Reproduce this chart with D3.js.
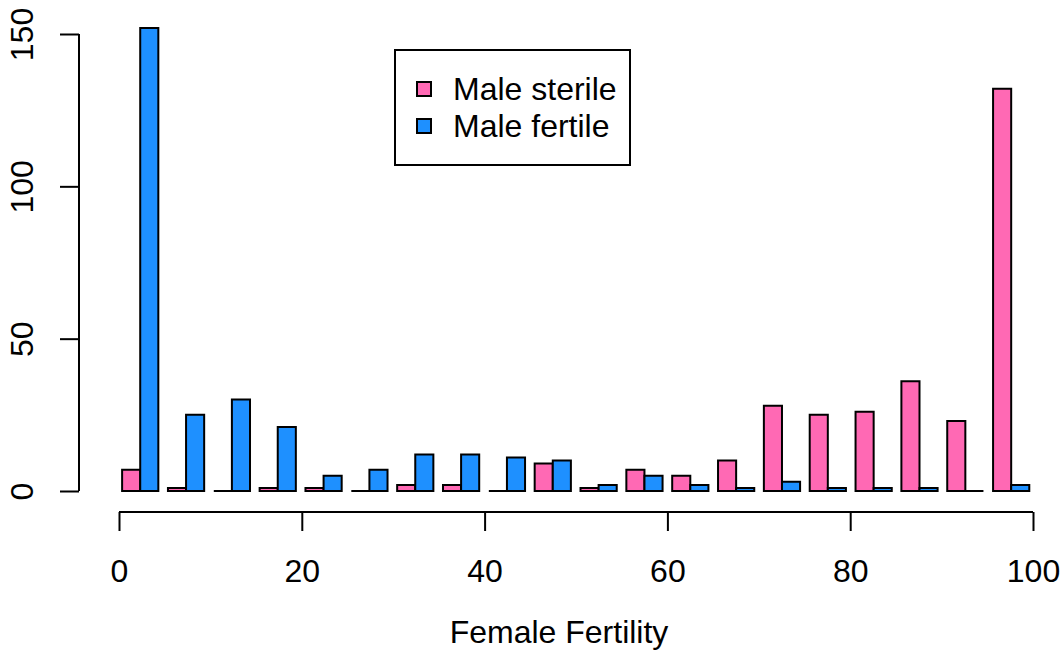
<!DOCTYPE html>
<html>
<head>
<meta charset="utf-8">
<script src="https://cdn.jsdelivr.net/npm/d3@7"></script>
<style>
  body { margin: 0; background: #fff; }
  text { font-family: "Liberation Sans", Arial, Helvetica, sans-serif; fill: #000; }
</style>
</head>
<body>
<svg id="chart" width="1063" height="650"></svg>
<script>
// bins of female fertility (%), 5 wide
const bins = d3.range(0, 100, 5);
const series = ['Male sterile', 'Male fertile'];
const colors = ['#FF69B4', '#1E90FF'];
const maleSterile = [7, 1, 0, 1, 1, 0, 2, 2, 0, 9, 1, 7, 5, 10, 28, 25, 26, 36, 23, 132];
const maleFertile = [152, 25, 30, 21, 5, 7, 12, 12, 11, 10, 2, 5, 2, 1, 3, 1, 1, 1, 0, 2];
const xTicks = [0, 20, 40, 60, 80, 100];
const yTicks = [0, 50, 100, 150];

const svg = d3.select('#chart');
const fontSize = 32;

const x = d3.scaleLinear().domain([0, 100]).range([119, 1033]);
const y = d3.scaleLinear().domain([0, 150]).range([491, 34]);

const group = d3.scaleBand()
  .domain(bins)
  .range([117.3, 1034.1])
  .paddingInner(0.21)
  .paddingOuter(0.105);
const sub = d3.scaleBand().domain(series).range([0, group.bandwidth()]);

const data = [];
bins.forEach((b, i) => {
  data.push({ bin: b, s: series[0], v: maleSterile[i] });
  data.push({ bin: b, s: series[1], v: maleFertile[i] });
});

// bars drawn as paths so zero counts still show as a line
svg.append('g')
  .selectAll('path')
  .data(data)
  .join('path')
  .attr('d', d => {
    const x0 = group(d.bin) + sub(d.s);
    const x1 = x0 + sub.bandwidth();
    const p = d3.path();
    p.moveTo(x0, y(0));
    p.lineTo(x0, y(d.v));
    p.lineTo(x1, y(d.v));
    p.lineTo(x1, y(0));
    p.closePath();
    return p.toString();
  })
  .attr('fill', d => colors[series.indexOf(d.s)])
  .attr('stroke', '#000')
  .attr('stroke-width', 2)
  .attr('stroke-linejoin', 'miter');

// y axis
const yAxis = svg.append('g')
  .attr('transform', 'translate(79,0)')
  .call(d3.axisLeft(y).tickValues(yTicks).tickSize(19).tickFormat(d3.format('d')));
yAxis.select('.domain').attr('d', `M0,${y(0)}V${y(150)}`);
yAxis.selectAll('path,line').attr('stroke', '#000').attr('stroke-width', 2);
yAxis.selectAll('text')
  .attr('font-size', fontSize)
  .attr('x', null).attr('dy', null)
  .attr('text-anchor', 'middle')
  .attr('transform', 'translate(-46,0) rotate(-90)')
  .attr('y', 0);
yAxis.attr('font-family', null);

// x axis
const xAxis = svg.append('g')
  .attr('transform', 'translate(0,512)')
  .call(d3.axisBottom(x).tickValues(xTicks).tickSize(19).tickFormat(d3.format('d')));
xAxis.select('.domain').attr('d', `M${x(0)},0H${x(100)}`);
xAxis.selectAll('path,line').attr('stroke', '#000').attr('stroke-width', 2);
xAxis.selectAll('text')
  .attr('font-size', fontSize)
  .attr('dy', null)
  .attr('y', 70);
xAxis.attr('font-family', null);

svg.append('text')
  .attr('x', x(50) - 17)
  .attr('y', 643)
  .attr('text-anchor', 'middle')
  .attr('font-size', fontSize)
  .text('Female Fertility');

// legend
const legend = svg.append('g');
legend.append('rect')
  .attr('x', 395).attr('y', 50)
  .attr('width', 235).attr('height', 115)
  .attr('fill', '#fff').attr('stroke', '#000').attr('stroke-width', 2);
series.forEach((s, i) => {
  const cy = 89 + i * 37;
  legend.append('rect')
    .attr('x', 417).attr('y', cy - 7)
    .attr('width', 14).attr('height', 14)
    .attr('fill', colors[i]).attr('stroke', '#000').attr('stroke-width', 2);
  legend.append('text')
    .attr('x', 453).attr('y', cy + 11)
    .attr('font-size', fontSize)
    .text(s);
});
</script>
</body>
</html>
